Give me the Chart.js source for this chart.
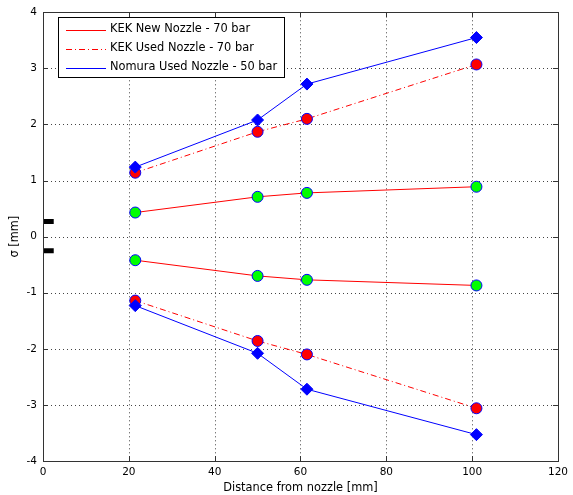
<!DOCTYPE html>
<html>
<head>
<meta charset="utf-8">
<script src="https://cdn.jsdelivr.net/npm/chart.js@4/dist/chart.umd.min.js"></script>
<style>
  html, body { margin: 0; padding: 0; background: #fff; }
  canvas { display: block; }
</style>
</head>
<body>
<canvas id="chart" width="573" height="495"></canvas>
<script>
// distance from nozzle [mm]
const distance = [21.5, 50, 61.5, 101];

// sigma [mm], upper and lower branch per series
const kekNewUpper = [0.43, 0.71, 0.78, 0.89];
const kekNewLower = [-0.42, -0.70, -0.77, -0.87];
const kekUsedUpper = [1.14, 1.87, 2.10, 3.07];
const kekUsedLower = [-1.14, -1.86, -2.10, -3.06];
const nomuraUpper = [1.24, 2.08, 2.72, 3.55];
const nomuraLower = [-1.23, -2.08, -2.72, -3.53];

// nozzle edges drawn at the left
const nozzleX = [0, 2.5];
const nozzleEdge = [0.27, -0.25];

const legendLabels = ['KEK New Nozzle - 70 bar', 'KEK Used Nozzle - 70 bar', 'Nomura Used Nozzle - 50 bar'];

const xTicks = [0, 20, 40, 60, 80, 100, 120];
const yTicks = [-4, -3, -2, -1, 0, 1, 2, 3, 4];

const pts = (ys) => distance.map((x, i) => ({ x: x, y: ys[i] }));

function series(ys, kind) {
  const base = { data: pts(ys), showLine: true, borderWidth: 1, pointBorderWidth: 1 };
  if (kind === 'new') {
    return Object.assign(base, { borderColor: '#ff0000', pointBackgroundColor: '#00ff00',
      pointBorderColor: '#0000ff', pointRadius: 5.5, pointStyle: 'circle' });
  }
  if (kind === 'used') {
    return Object.assign(base, { borderColor: '#ff0000', borderDash: [6, 3, 1, 3], pointBackgroundColor: '#ff0000',
      pointBorderColor: '#0000ff', pointRadius: 5.5, pointStyle: 'circle' });
  }
  return Object.assign(base, { borderColor: '#0000ff', pointBackgroundColor: '#0000ff',
    pointBorderColor: '#0000ff', pointRadius: 6, pointStyle: 'rectRot' });
}

const nozzleSets = nozzleEdge.map(y => ({
  data: nozzleX.map(x => ({ x: x, y: y })),
  showLine: true, borderColor: '#000', borderWidth: 5, pointRadius: 0
}));

const textFamily = '"DejaVu Sans", Verdana, sans-serif';

// matlab style frame: dotted grid, box, inward ticks, legend inside
const matlabFrame = {
  id: 'matlabFrame',
  beforeDatasetsDraw(chart) {
    const { ctx, chartArea: a, scales: { x, y } } = chart;
    ctx.save();
    ctx.strokeStyle = '#444';
    ctx.lineWidth = 1;
    ctx.setLineDash([1, 3]);
    xTicks.slice(1, -1).forEach(v => {
      const px = Math.round(x.getPixelForValue(v)) + 0.5;
      ctx.beginPath(); ctx.moveTo(px, a.top); ctx.lineTo(px, a.bottom); ctx.stroke();
    });
    yTicks.slice(1, -1).forEach(v => {
      const py = Math.round(y.getPixelForValue(v)) + 0.5;
      ctx.beginPath(); ctx.moveTo(a.left, py); ctx.lineTo(a.right, py); ctx.stroke();
    });
    ctx.restore();
  },
  afterDatasetsDraw(chart) {
    const { ctx, chartArea: a, scales: { x, y } } = chart;
    ctx.save();
    ctx.strokeStyle = '#333';
    ctx.lineWidth = 1;
    ctx.strokeRect(Math.round(a.left) + 0.5, Math.round(a.top) + 0.5,
      Math.round(a.right - a.left), Math.round(a.bottom - a.top));
    const tl = 5;
    ctx.beginPath();
    xTicks.forEach(v => {
      const px = Math.round(x.getPixelForValue(v)) + 0.5;
      ctx.moveTo(px, a.bottom); ctx.lineTo(px, a.bottom - tl);
      ctx.moveTo(px, a.top); ctx.lineTo(px, a.top + tl);
    });
    yTicks.forEach(v => {
      const py = Math.round(y.getPixelForValue(v)) + 0.5;
      ctx.moveTo(a.left, py); ctx.lineTo(a.left + tl, py);
      ctx.moveTo(a.right, py); ctx.lineTo(a.right - tl, py);
    });
    ctx.stroke();

    // legend
    const lx = 58.5, ly = 17.5, lw = 226, lh = 60;
    ctx.fillStyle = '#fff';
    ctx.fillRect(lx, ly, lw, lh);
    ctx.strokeStyle = '#000';
    ctx.strokeRect(lx, ly, lw, lh);
    const styles = [
      { color: '#ff0000', dash: [] },
      { color: '#ff0000', dash: [6, 3, 1, 3] },
      { color: '#0000ff', dash: [] }
    ];
    ctx.font = '11.4px ' + textFamily;
    ctx.textBaseline = 'middle';
    legendLabels.forEach((label, i) => {
      const cy = ly + 12 + i * 19;
      ctx.strokeStyle = styles[i].color;
      ctx.setLineDash(styles[i].dash);
      ctx.beginPath(); ctx.moveTo(66, Math.round(cy) + 0.5); ctx.lineTo(106, Math.round(cy) + 0.5); ctx.stroke();
      ctx.setLineDash([]);
      ctx.fillStyle = '#000';
      ctx.fillText(label, 110, cy);
    });
    ctx.restore();
  }
};

const tickFont = { family: textFamily, size: 10.5 };
const titleFont = { family: textFamily, size: 11.4 };

new Chart(document.getElementById('chart'), {
  type: 'scatter',
  data: {
    datasets: [
      ...nozzleSets,
      series(nomuraUpper, 'nomura'),
      series(nomuraLower, 'nomura'),
      series(kekUsedUpper, 'used'),
      series(kekUsedLower, 'used'),
      series(kekNewUpper, 'new'),
      series(kekNewLower, 'new')
    ]
  },
  options: {
    responsive: false,
    devicePixelRatio: 1,
    animation: false,
    layout: { padding: { left: 0, right: 12, top: 12, bottom: 0 } },
    plugins: { legend: { display: false }, tooltip: { enabled: false } },
    scales: {
      x: {
        type: 'linear', min: 0, max: 120,
        afterFit(s) { s.height = 34; },
        afterBuildTicks(s) { s.ticks = xTicks.map(v => ({ value: v })); },
        grid: { display: false, drawTicks: false },
        border: { display: false },
        ticks: { color: '#000', font: tickFont, padding: 5, maxRotation: 0 },
        title: { display: true, text: 'Distance from nozzle [mm]', color: '#000', font: titleFont, padding: { top: 0, bottom: 0 } }
      },
      y: {
        type: 'linear', min: -4, max: 4,
        afterFit(s) { s.width = 43; },
        afterBuildTicks(s) { s.ticks = yTicks.map(v => ({ value: v })); },
        grid: { display: false, drawTicks: false },
        border: { display: false },
        ticks: { color: '#000', font: tickFont, padding: 6 },
        title: { display: true, text: 'σ [mm]', color: '#000', font: titleFont, padding: { top: 8, bottom: 0 } }
      }
    }
  },
  plugins: [matlabFrame]
});
</script>
</body>
</html>
